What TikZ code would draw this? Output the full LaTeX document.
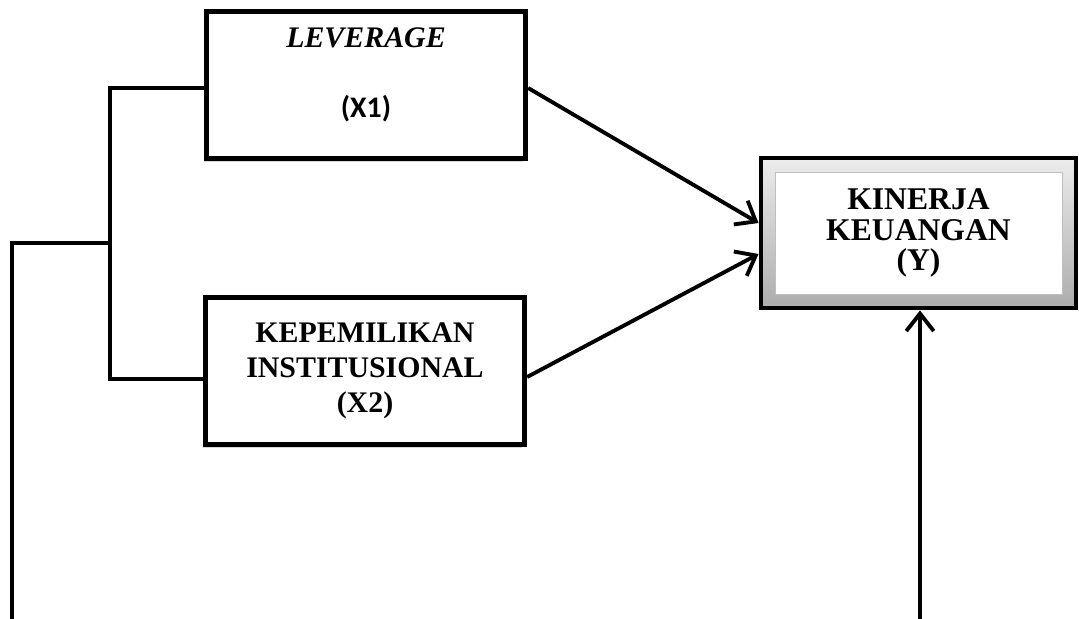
\documentclass[tikz,border=0pt]{standalone}
\usepackage{fontspec}
\setmainfont{Liberation Serif}
\newfontfamily\calib{Carlito}
\usetikzlibrary{arrows.meta,shadows}

\tikzset{
  varbox/.style={draw, line width=3pt, fill=white, minimum width=6.38cm, minimum height=2.94cm,
    align=center, font=\fontsize{17}{20}\selectfont\bfseries,
    drop shadow={shadow xshift=-0.06cm, shadow yshift=-0.06cm, fill=black!30, opacity=.5}},
  link/.style={line width=2.2pt},
  arr/.style={link, -{Straight Barb[length=0.35cm, width=0.55cm]}}
}

\begin{document}
\begin{tikzpicture}

\useasboundingbox (0,0) rectangle (21.58,-12.38);

\node[varbox] (x1) at (7.32,-1.70) {{\itshape LEVERAGE}\\[20pt]{\calib (X1)}\\[-6pt]\mbox{}};
\node[varbox] (x2) at (7.30,-7.42) {KEPEMILIKAN\\INSTITUSIONAL\\(X2)};

\node[draw, line width=2.8pt, top color=gray!15, bottom color=gray!65, minimum width=6.30cm, minimum height=3.00cm] (y) at (18.37,-4.66) {};
\node[fill=white, draw=gray!50, line width=0.5pt, minimum width=5.74cm, minimum height=2.44cm,
  align=center, font=\fontsize{18}{17.5}\selectfont\bfseries] (yin) at (y) {KINERJA\\KEUANGAN\\(Y)};

\coordinate (split) at (2.20,-4.86);
\coordinate (lbot) at (0.24,-12.38);
\coordinate (ybot) at (18.40,-12.38);

\draw[link] ([yshift=-0.06cm]x1.west) -| (split) |- ([yshift=-0.16cm]x2.west);
\draw[link] (split) -| (lbot);

\draw[arr] ([yshift=-0.06cm]x1.east) -- ([yshift=0.2cm]y.west);
\draw[arr] ([yshift=-0.12cm]x2.east) -- ([yshift=-0.42cm]y.west);
\draw[arr] (ybot) -- (ybot |- y.south);

\end{tikzpicture}
\end{document}
